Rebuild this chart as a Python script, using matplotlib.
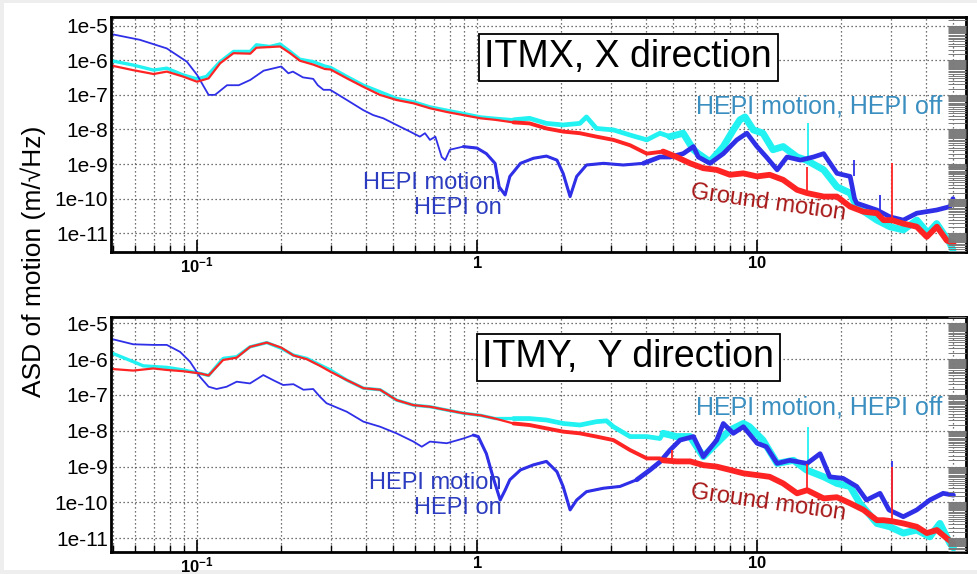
import numpy as np
import matplotlib
matplotlib.use('Agg')
import matplotlib.pyplot as plt
from matplotlib.patches import Rectangle
from matplotlib.ticker import LogLocator, FixedLocator, NullFormatter, NullLocator

plt.rcParams['font.family'] = ['Liberation Sans', 'DejaVu Sans']
plt.rcParams['mathtext.fontset'] = 'custom'
plt.rcParams['mathtext.rm'] = 'Liberation Sans'
plt.rcParams['mathtext.bf'] = 'Liberation Sans:bold'

# ---------------- ITMX, X direction (top panel) ----------------
itmx_off_f = [0.05, 0.059, 0.07, 0.078, 0.089, 0.1, 0.108, 0.121, 0.135, 0.155, 0.163, 0.182, 0.198,
              0.215, 0.233, 0.26, 0.286, 0.30, 0.343, 0.393, 0.45, 0.516, 0.593, 0.679, 0.78, 0.894,
              1.03, 1.16, 1.35, 1.54, 1.77, 2.03, 2.33, 2.46, 2.67, 3.07, 3.52, 4.04, 4.5, 4.89, 5.45,
              5.93, 6.17, 6.79, 7.58, 8.23, 8.69, 9.06, 9.7, 10.5, 11.4, 12.4, 13.9, 15.0,
              17.3, 19.3, 21.5, 22.7, 26.8, 29.8, 33.3, 37.2, 40.8, 43.8, 48.9, 50.1]
itmx_off_v = [9.5e-7, 7.3e-7, 5.2e-7, 5.9e-7, 3.8e-7, 2.9e-7, 3.4e-7, 9.1e-7, 1.8e-6, 1.8e-6, 2.8e-6,
              2.5e-6, 2.95e-6, 1.8e-6, 1.07e-6, 9.1e-7, 6.8e-7, 6.2e-7, 3.4e-7, 1.9e-7, 1.23e-7, 7.9e-8,
              6.3e-8, 4.5e-8, 3.6e-8, 2.9e-8, 2.3e-8, 2.1e-8, 1.9e-8, 2.1e-8, 1.5e-8, 1.35e-8, 1.5e-8,
              2.3e-8, 1.07e-8, 9.7e-9, 6.9e-9, 5.0e-9, 7.8e-9, 6.2e-9, 7.8e-9, 2.6e-9, 2.0e-9, 1.17e-9,
              3.2e-9, 9.7e-9, 1.9e-8, 2.3e-8, 9.7e-9, 7.8e-9, 2.6e-9, 3.2e-9, 1.6e-9, 1.3e-9,
              6.8e-10, 2.2e-10, 1.45e-10, 5.9e-11, 2.4e-11, 1.55e-11, 1.25e-11, 2.4e-11, 1.0e-11,
              1.9e-11, 5.1e-12, 3.3e-12]
itmx_off_spike = ([15.2], [1.3e-9], [1.5e-8])

itmx_gnd_f = [0.05, 0.059, 0.07, 0.078, 0.089, 0.1, 0.11, 0.121, 0.135, 0.155, 0.163, 0.198, 0.215,
              0.233, 0.26, 0.286, 0.30, 0.343, 0.393, 0.45, 0.516, 0.593, 0.679, 0.78, 0.894, 1.03,
              1.16, 1.35, 1.54, 1.77, 2.03, 2.33, 2.67, 3.07, 3.52, 4.04, 4.62, 5.16, 5.77, 6.43, 7.18,
              8.01, 8.94, 10.0, 11.1, 12.4, 13.9, 15.1, 17.3, 19.3, 21.5, 24.0, 26.8, 28.3, 30.3,
              33.3, 37.2, 40.4, 43.9, 47.6, 50.3]
itmx_gnd_v = [6.9e-7, 5.2e-7, 4.0e-7, 4.7e-7, 3.4e-7, 2.4e-7, 3.0e-7, 8.2e-7, 1.6e-6, 1.55e-6, 2.3e-6,
              2.5e-6, 1.6e-6, 9.7e-7, 7.5e-7, 5.6e-7, 5.4e-7, 3.0e-7, 1.7e-7, 1.0e-7, 7.1e-8, 5.7e-8,
              4.1e-8, 3.2e-8, 2.6e-8, 2.1e-8, 1.9e-8, 1.6e-8, 1.5e-8, 1.07e-8, 8.7e-9, 7.8e-9, 6.2e-9,
              5.0e-9, 3.5e-9, 2.0e-9, 2.3e-9, 1.6e-9, 1.05e-9, 7.6e-10, 6.8e-10, 4.9e-10, 5.4e-10,
              4.4e-10, 4.9e-10, 3.5e-10, 1.8e-10, 1.45e-10, 1.15e-10, 1.15e-10, 5.9e-11, 4.2e-11,
              3.8e-11, 2.4e-11, 2.4e-11, 1.9e-11, 1.55e-11, 7.9e-12, 1.55e-11, 6.2e-12, 5.1e-12]
itmx_gnd_spike = ([15.1, 30.3], [1.45e-10, 2.4e-11], [8.0e-10, 1.05e-9])

itmx_on_f = [0.05, 0.0625, 0.078, 0.092, 0.1, 0.11, 0.116, 0.128, 0.141, 0.155, 0.173, 0.2, 0.212,
             0.22, 0.239, 0.26, 0.27, 0.283, 0.299, 0.343, 0.393, 0.426, 0.463, 0.516, 0.576, 0.625,
             0.652, 0.679, 0.71, 0.748, 0.77, 0.80, 0.894, 1.0, 1.08, 1.16, 1.2, 1.26, 1.31, 1.43,
             1.59, 1.77, 1.93, 2.03, 2.15, 2.27, 2.46, 2.83, 3.33, 3.93, 4.5, 4.89, 5.45, 5.93, 6.17,
             6.79, 7.58, 8.47, 9.2, 10.0, 10.8, 11.8, 12.8, 14.3, 15.9, 17.3, 19.3, 21.5, 22.3,
             22.7, 26.8, 29.8, 33.3, 37.2, 43.8, 48.9, 50.1]
itmx_on_v = [5.6e-6, 3.9e-6, 2.2e-6, 9.1e-7, 3.8e-7, 1.0e-7, 1.0e-7, 1.9e-7, 1.9e-7, 2.7e-7, 5.0e-7,
             6.6e-7, 4.2e-7, 4.7e-7, 3.2e-7, 2.9e-7, 1.9e-7, 1.4e-7, 1.4e-7, 7.1e-8, 3.6e-8, 2.6e-8,
             2.1e-8, 1.35e-8, 8.7e-9, 6.2e-9, 7.8e-9, 5.0e-9, 6.2e-9, 1.6e-9, 1.3e-9, 2.6e-9, 3.2e-9,
             2.9e-9, 2.0e-9, 1.05e-9, 2.2e-10, 1.28e-10, 4.4e-10, 1.05e-9, 1.47e-9, 1.7e-9, 1.3e-9,
             5.4e-10, 1.15e-10, 4.4e-10, 9.4e-10, 1.05e-9, 9.4e-10, 1.05e-9, 1.6e-9, 1.6e-9, 2.0e-9,
             3.2e-9, 1.6e-9, 1.05e-9, 2.0e-9, 5.0e-9, 7.8e-9, 3.2e-9, 1.6e-9, 6.8e-10, 1.6e-9, 1.3e-9,
             1.6e-9, 2.0e-9, 5.4e-10, 4.4e-10, 1.0e-10, 7.4e-11, 4.7e-11, 3.0e-11, 2.4e-11,
             3.8e-11, 4.7e-11, 5.9e-11, 1.0e-10]
itmx_on_spike = ([22.2, 27.5], [4.4e-10, 3.5e-11], [1.3e-9, 1.3e-10])

# ---------------- ITMY, Y direction (bottom panel) ----------------
itmy_off_f = [0.05, 0.0592, 0.0643, 0.078, 0.0894, 0.1025, 0.11, 0.124, 0.1386, 0.1546, 0.1775, 0.2,
              0.221, 0.2466, 0.275, 0.299, 0.343, 0.393, 0.451, 0.516, 0.593, 0.679, 0.78, 0.894,
              1.03, 1.16, 1.35, 1.54, 1.77, 2.03, 2.33, 2.67, 2.9, 3.07, 3.52, 4.04, 4.5, 4.62, 5.16,
              5.77, 6.43, 7.18, 8.01, 8.94, 9.4, 10.5, 11.8, 13.5, 15.0, 17.3, 19.3, 21.5,
              23.3, 26.8, 29.8, 33.3, 37.2, 41.4, 45.0, 48.9, 50.3]
itmy_off_v = [1.45e-6, 8.5e-7, 6.5e-7, 5.9e-7, 5.0e-7, 4.0e-7, 3.5e-7, 1.05e-6, 1.17e-6, 2.2e-6,
              2.9e-6, 2.0e-6, 1.3e-6, 1.05e-6, 6.9e-7, 5.0e-7, 2.6e-7, 1.55e-7, 1.4e-7, 7.2e-8, 5.2e-8,
              4.7e-8, 3.8e-8, 3.1e-8, 2.7e-8, 2.2e-8, 2.2e-8, 2.2e-8, 2.0e-8, 1.6e-8, 1.45e-8, 1.8e-8,
              1.9e-8, 1.3e-8, 6.9e-9, 6.9e-9, 6.1e-9, 8.5e-9, 6.9e-9, 6.9e-9, 1.9e-9, 4.5e-9, 1.05e-8,
              1.6e-8, 1.3e-8, 5.5e-9, 1.23e-9, 1.5e-9, 8.1e-10, 5.2e-10, 3.4e-10,
              2.8e-10, 9.5e-11, 2.6e-11, 2.1e-11, 1.4e-11, 1.7e-11, 1.1e-11, 2.6e-11, 7.2e-12, 5.4e-12]
itmy_off_spike = ([15.2], [8.1e-10], [1.3e-8])

itmy_gnd_f = [0.05, 0.0592, 0.0698, 0.078, 0.0894, 0.1025, 0.11, 0.124, 0.1386, 0.1546, 0.1775, 0.2,
              0.221, 0.2466, 0.275, 0.299, 0.343, 0.393, 0.451, 0.516, 0.593, 0.679, 0.78, 0.894,
              1.03, 1.16, 1.35, 1.54, 1.77, 2.03, 2.33, 2.67, 3.07, 3.52, 4.04, 4.5, 4.62, 5.16,
              5.77, 6.43, 7.18, 8.01, 8.94, 10.0, 11.1, 12.4, 13.9, 15.1, 17.3, 19.3, 21.5, 24.0, 26.8,
              28.3, 30.3, 33.3, 37.2, 40.4, 43.9, 47.6, 50.3]
itmy_gnd_v = [5.3e-7, 4.8e-7, 5.5e-7, 5.0e-7, 4.6e-7, 4.0e-7, 3.5e-7, 9.5e-7, 1.1e-6, 2.2e-6, 2.9e-6,
              2.1e-6, 1.27e-6, 1.0e-6, 6.5e-7, 4.5e-7, 2.6e-7, 1.55e-7, 1.4e-7, 7.2e-8, 5.2e-8, 4.7e-8,
              3.8e-8, 3.1e-8, 2.7e-8, 2.2e-8, 1.6e-8, 1.45e-8, 1.17e-8, 9.5e-9, 8.5e-9, 6.9e-9, 5.5e-9,
              2.9e-9, 1.7e-9, 1.7e-9, 1.5e-9, 1.4e-9, 1.4e-9, 1.1e-9, 1.0e-9, 8.1e-10, 6.5e-10,
              5.8e-10, 5.2e-10, 3.4e-10, 1.8e-10, 2.2e-10, 1.3e-10, 1.4e-10, 9.5e-11, 6.2e-11, 3.2e-11,
              3.2e-11, 3.0e-11, 2.6e-11, 2.1e-11, 1.4e-11, 1.7e-11, 1.0e-11, 7.2e-12]
itmy_gnd_spike = ([4.99, 15.1, 30.3], [1.5e-9, 2.2e-10, 3.0e-11], [2.9e-9, 1.2e-9, 1.0e-9])

itmy_on_f = [0.05, 0.0592, 0.0698, 0.078, 0.087, 0.0944, 0.1025, 0.11, 0.1175, 0.1276, 0.1386, 0.1546,
             0.1725, 0.187, 0.203, 0.221, 0.24, 0.26, 0.275, 0.29, 0.343, 0.393, 0.451, 0.516, 0.593,
             0.635, 0.679, 0.78, 0.894, 0.97, 1.01, 1.08, 1.14, 1.21, 1.26, 1.31, 1.43, 1.59, 1.77,
             1.93, 2.03, 2.15, 2.27, 2.46, 2.83, 3.24, 3.72, 4.15, 4.5, 4.89, 5.31, 5.93, 6.43, 7.18,
             7.58, 8.23, 8.94, 10.0, 10.8, 11.8, 13.1, 15.1, 16.8, 18.2, 20.3, 22.7, 24.6, 27.5, 29.6,
             33.3, 37.2, 41.4, 46.2, 50.3]
itmy_on_v = [3.6e-6, 2.6e-6, 2.5e-6, 2.5e-6, 1.6e-6, 8.5e-7, 3.2e-7, 1.7e-7, 1.47e-7, 1.7e-7, 2.35e-7,
             2.1e-7, 3.6e-7, 2.6e-7, 1.9e-7, 2.0e-7, 1.4e-7, 1.47e-7, 8.9e-8, 5.9e-8, 3.4e-8, 1.8e-8,
             1.3e-8, 8.5e-9, 5.0e-9, 3.6e-9, 5.0e-9, 4.5e-9, 6.1e-9, 7.6e-9, 6.9e-9, 2.3e-9, 5.2e-10,
             1.17e-10, 2.2e-10, 4.3e-10, 8.1e-10, 1.12e-9, 1.4e-9, 7.2e-10, 2.8e-10, 6.2e-11, 1.17e-10,
             2.0e-10, 2.5e-10, 2.8e-10, 4.3e-10, 8.1e-10, 1.35e-9, 2.9e-9, 5.5e-9, 6.9e-9, 1.9e-9,
             5.5e-9, 1.6e-8, 8.5e-9, 1.3e-8, 4.5e-9, 3.6e-9, 1.23e-9, 1.5e-9, 1.23e-9, 2.3e-9, 5.2e-10,
             4.7e-10, 2.8e-10, 1.17e-10, 1.8e-10, 6.2e-11, 4.0e-11, 6.2e-11, 1.17e-10,
             1.8e-10, 1.6e-10]
itmy_on_spike = ([30.3], [6.2e-11], [1.4e-9])

panels = [
    dict(title='ITMX, X direction', off=(itmx_off_f, itmx_off_v), gnd=(itmx_gnd_f, itmx_gnd_v),
         on=(itmx_on_f, itmx_on_v), off_spike=itmx_off_spike, gnd_spike=itmx_gnd_spike,
         on_spike=itmx_on_spike, on_text='HEPI motion,\nHEPI on', ylim=(2.88e-12, 1.78e-5)),
    dict(title='ITMY,  Y direction', off=(itmy_off_f, itmy_off_v), gnd=(itmy_gnd_f, itmy_gnd_v),
         on=(itmy_on_f, itmy_on_v), off_spike=itmy_off_spike, gnd_spike=itmy_gnd_spike,
         on_spike=itmy_on_spike, on_text='HEPI motion\nHEPI on', ylim=(4.14e-12, 1.5e-5)),
]

CYAN = '#22f2f2'
RED = '#ff2424'
BLUE = '#2f2fe8'


def draw_trace(ax, f, v, color, widths):
    # thin line at low frequency, thicker where the spectrum gets noisy
    f = np.asarray(f)
    v = np.asarray(v)
    for fmin, lw in widths:
        idx = np.where(f >= fmin)[0]
        if len(idx) == 0:
            continue
        start = max(idx[0] - 1, 0)
        ax.plot(f[start:], v[start:], color=color, lw=lw, solid_joinstyle='round',
                solid_capstyle='round')


def draw_spikes(ax, spikes, color):
    f, lo, hi = spikes
    ax.vlines(f, lo, hi, color=color, lw=1.3)


fig = plt.figure(figsize=(9.77, 5.74), dpi=100)
fig.patch.set_facecolor('#eeeeee')
fig.add_artist(Rectangle((0.004, 0.007), 0.996, 0.988, transform=fig.transFigure,
                         facecolor='white', edgecolor='none', zorder=-10))

bottoms = [0.561, 0.0383]
for p, b in zip(panels, bottoms):
    ax = fig.add_axes([0.1136, b, 0.875, 0.4094])
    ax.set_xscale('log')
    ax.set_yscale('log')

    draw_trace(ax, *p['off'], CYAN, [(0, 2.4), (1.5, 3.4), (5, 5.0)])
    draw_spikes(ax, p['off_spike'], CYAN)
    draw_trace(ax, *p['on'], BLUE, [(0, 1.3), (1.0, 2.2), (4, 3.4)])
    draw_spikes(ax, p['on_spike'], BLUE)
    draw_trace(ax, *p['gnd'], RED, [(0, 1.6), (1.5, 2.8), (5, 4.2)])
    draw_spikes(ax, p['gnd_spike'], RED)

    ax.set_xlim(0.0493, 55.7)
    ax.set_ylim(*p['ylim'])

    ax.xaxis.set_major_locator(FixedLocator([0.1, 1, 10]))
    ax.set_xticklabels([r'$\mathbf{10^{-1}}$', r'$\mathbf{1}$', r'$\mathbf{10}$'])
    ax.xaxis.set_minor_locator(LogLocator(base=10, subs=np.arange(2, 10), numticks=20))
    ax.xaxis.set_minor_formatter(NullFormatter())
    ax.tick_params(axis='x', which='major', direction='in', length=9, width=1.2,
                   labelsize=12, pad=2.5)
    ax.tick_params(axis='x', which='minor', direction='in', length=5, width=1.0)

    ax.yaxis.set_minor_locator(NullLocator())
    ax.set_yticks([1e-5, 1e-6, 1e-7, 1e-8, 1e-9, 1e-10, 1e-11])
    ax.set_yticklabels(['1e-5', '1e-6', '1e-7', '1e-8', '1e-9', '1e-10', '1e-11'])
    ax.tick_params(axis='y', which='major', direction='in', length=0, labelsize=15, pad=2)

    ax.grid(True, which='major', axis='both', color='#444444', linestyle=(0, (1, 2.2)), lw=0.9)
    ax.grid(True, which='minor', axis='x', color='#444444', linestyle=(0, (1, 2.2)), lw=0.9)
    for s in ax.spines.values():
        s.set_linewidth(2.0)
        s.set_color('black')

    # tick comb along the right edge
    ax2 = ax.twinx()
    ax2.set_yscale('log')
    ax2.set_ylim(*p['ylim'])
    ax2.yaxis.set_major_locator(LogLocator(base=10, numticks=20))
    ax2.yaxis.set_minor_locator(LogLocator(base=10, subs=np.arange(1.0, 10.0, 0.5), numticks=20))
    ax2.yaxis.set_major_formatter(NullFormatter())
    ax2.yaxis.set_minor_formatter(NullFormatter())
    ax2.tick_params(axis='y', which='both', direction='in', length=13, width=0.7, color='#7a7a7a')
    for s in ax2.spines.values():
        s.set_visible(False)

    ax.text(0.605, 0.828, p['title'], transform=ax.transAxes, fontsize=27, ha='center',
            va='center', bbox=dict(facecolor='white', edgecolor='black', lw=1.3, pad=4))
    ax.text(0.829, 0.617, 'HEPI motion, HEPI off', transform=ax.transAxes, fontsize=18,
            color='#3a8fc0', ha='center', va='center')
    ax.text(0.457, 0.24, p['on_text'], transform=ax.transAxes, fontsize=17, color='#2b3cc0',
            ha='right', va='center', multialignment='right', linespacing=1.2)
    ax.text(0.769, 0.209, 'Ground motion', transform=ax.transAxes, fontsize=17, color='#a81818',
            ha='center', va='center', rotation=-8)

fig.text(0.034, 0.544, 'ASD of motion (m/\u221aHz)', rotation=90, fontsize=19,
         ha='center', va='center')

fig.savefig('out.png', dpi=100, facecolor=fig.get_facecolor())
